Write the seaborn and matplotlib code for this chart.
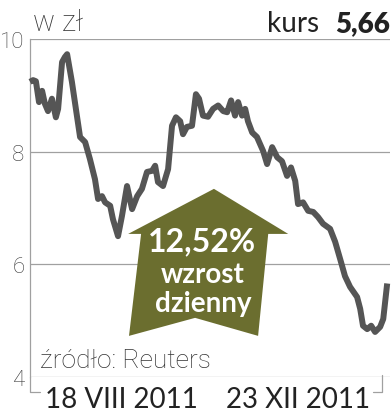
import matplotlib
matplotlib.use("Agg")
import matplotlib.pyplot as plt
import seaborn as sns
import pandas as pd
from matplotlib.patches import Polygon
from matplotlib.lines import Line2D

# ---- data (days since 18 VIII 2011, share price in zł) ----
days = [0, 1.1, 2.1, 3.2, 4.3, 5.3, 6.4, 7.8, 9.2, 10.0, 11.4, 12.4, 13.2, 14.9,
        16.7, 17.8, 19.6, 21.3, 23.1, 24.2, 25.6, 26.7, 28.5, 29.5, 31.3, 32.7,
        34.5, 36.3, 38.1, 39.8, 41.6, 43.4, 44.5, 45.5, 47.3, 49.1, 50.5, 51.9,
        53.4, 54.4, 55.8, 57.6, 59.0, 60.1, 61.5, 63.3, 65.1, 66.9, 68.7, 70.1,
        71.5, 72.9, 74.0, 75.4, 76.5, 77.5, 79.0, 80.7, 82.9, 84.3, 86.1, 87.9,
        89.6, 91.4, 92.8, 94.3, 95.3, 97.1, 98.9, 100.7, 102.4, 104.2, 106.7,
        108.5, 110.3, 112.0, 113.8, 116.3, 117.4, 118.4, 119.9, 121.3, 122.7,
        124.5, 125.6, 127.0]
price = [9.24, 9.27, 9.25, 8.88, 9.08, 8.85, 8.72, 8.94, 8.61, 8.76, 9.59, 9.68,
         9.73, 9.24, 8.63, 8.26, 8.17, 7.87, 7.51, 7.16, 7.21, 7.10, 7.04, 6.80,
         6.50, 6.86, 7.39, 6.98, 7.21, 7.34, 7.64, 7.66, 7.75, 7.46, 7.39, 7.69,
         8.46, 8.61, 8.54, 8.31, 8.44, 8.46, 9.02, 8.94, 8.64, 8.62, 8.76, 8.82,
         8.72, 8.70, 8.91, 8.64, 8.88, 8.64, 8.76, 8.54, 8.34, 8.26, 8.01, 7.78,
         8.08, 7.90, 7.83, 7.57, 7.72, 7.48, 7.07, 7.10, 6.95, 6.93, 6.84, 6.72,
         6.63, 6.40, 6.09, 5.79, 5.60, 5.42, 5.21, 4.91, 4.85, 4.91, 4.80, 4.89,
         5.03, 5.66]
y_ticks = [4, 6, 8, 10]
y_tick_labels = ["4", "6", "8", "10"]
date_labels = ["18 VIII 2011", "23 XII 2011"]
unit_label = "w zł"
rate_label = "kurs"
rate_value = "5,66"
badge_lines = ["12,52%", "wzrost", "dzienny"]
source_label = "źródło: Reuters"

df = pd.DataFrame({"day": days, "price": price})

sns.set_style("white")
plt.rcParams["font.family"] = ["Lato", "DejaVu Sans"]
thin = ["Roboto", "DejaVu Sans"]

fig = plt.figure(figsize=(3.92, 4.14), dpi=100)
ax = fig.add_axes([30 / 392, 1 - 378 / 414, 360 / 392, 338 / 414])

grid_c = "#a0a0a0"
for v in y_ticks:
    ax.axhline(v, color=grid_c, lw=0.9, zorder=1)

# price line
sns.lineplot(data=df, x="day", y="price", ax=ax, color="#555555", lw=4.3,
             zorder=3, clip_on=False, solid_joinstyle="round", solid_capstyle="butt")

ax.set_xlim(0, 128)
ax.set_ylim(4, 10)
for s in ["top", "right", "bottom"]:
    ax.spines[s].set_visible(False)
ax.spines["left"].set_color(grid_c)
ax.spines["left"].set_linewidth(0.9)

ax.set_yticks(y_ticks)
ax.set_yticklabels(y_tick_labels, fontsize=16, color="#3a3a3a",
                   fontweight="light", family=thin)
ax.tick_params(axis="y", length=0, pad=4)
ax.set_xticks([])
ax.set_xlabel("")
ax.set_ylabel("")

# arrow badge
olive = "#6b6e2f"
arrow = [(65.4, 7.34), (91.8, 6.54), (84.7, 6.54), (81.1, 4.73), (58.7, 5.05),
         (35.2, 4.73), (39.5, 6.54), (34.9, 6.54)]
ax.add_patch(Polygon(arrow, closed=True, facecolor=olive, edgecolor="none", zorder=4))
ax.text(61.0, 6.42, badge_lines[0], ha="center", va="center", color="white",
        fontsize=23, fontweight="bold", zorder=5)
ax.text(61.5, 5.83, badge_lines[1], ha="center", va="center", color="white",
        fontsize=20, fontweight="bold", zorder=5)
ax.text(61.5, 5.32, badge_lines[2], ha="center", va="center", color="white",
        fontsize=20, fontweight="bold", zorder=5)

# bracket ticks under the axis
trans = ax.get_xaxis_transform()
ax.add_line(Line2D([0, 0, 3.6], [0, -0.045, -0.045], transform=trans,
                   color=grid_c, lw=0.9, clip_on=False))
ax.add_line(Line2D([125.2, 125.2, 122.0], [0.005, -0.045, -0.045], transform=trans,
                   color=grid_c, lw=0.9, clip_on=False))

# texts
fig.text(33 / 392, 1 - 31 / 414, unit_label, fontsize=21, color="#333333",
         fontweight="light", family=thin, va="baseline", ha="left")
fig.text(319 / 392, 1 - 32 / 414, rate_label, fontsize=20, color="#222222",
         va="baseline", ha="right")
fig.text(390 / 392, 1 - 32 / 414, rate_value, fontsize=20, color="#222222",
         fontweight="heavy", va="baseline", ha="right")
fig.text(40 / 392, 1 - 368 / 414, source_label, fontsize=19, color="#333333",
         fontweight="light", family=thin, va="baseline", ha="left")
fig.text(45 / 392, 1 - 408 / 414, date_labels[0], fontsize=20, color="#222222",
         va="baseline", ha="left")
fig.text(370 / 392, 1 - 408 / 414, date_labels[1], fontsize=20, color="#222222",
         va="baseline", ha="right")

fig.savefig("out.png", dpi=100, facecolor="white")
